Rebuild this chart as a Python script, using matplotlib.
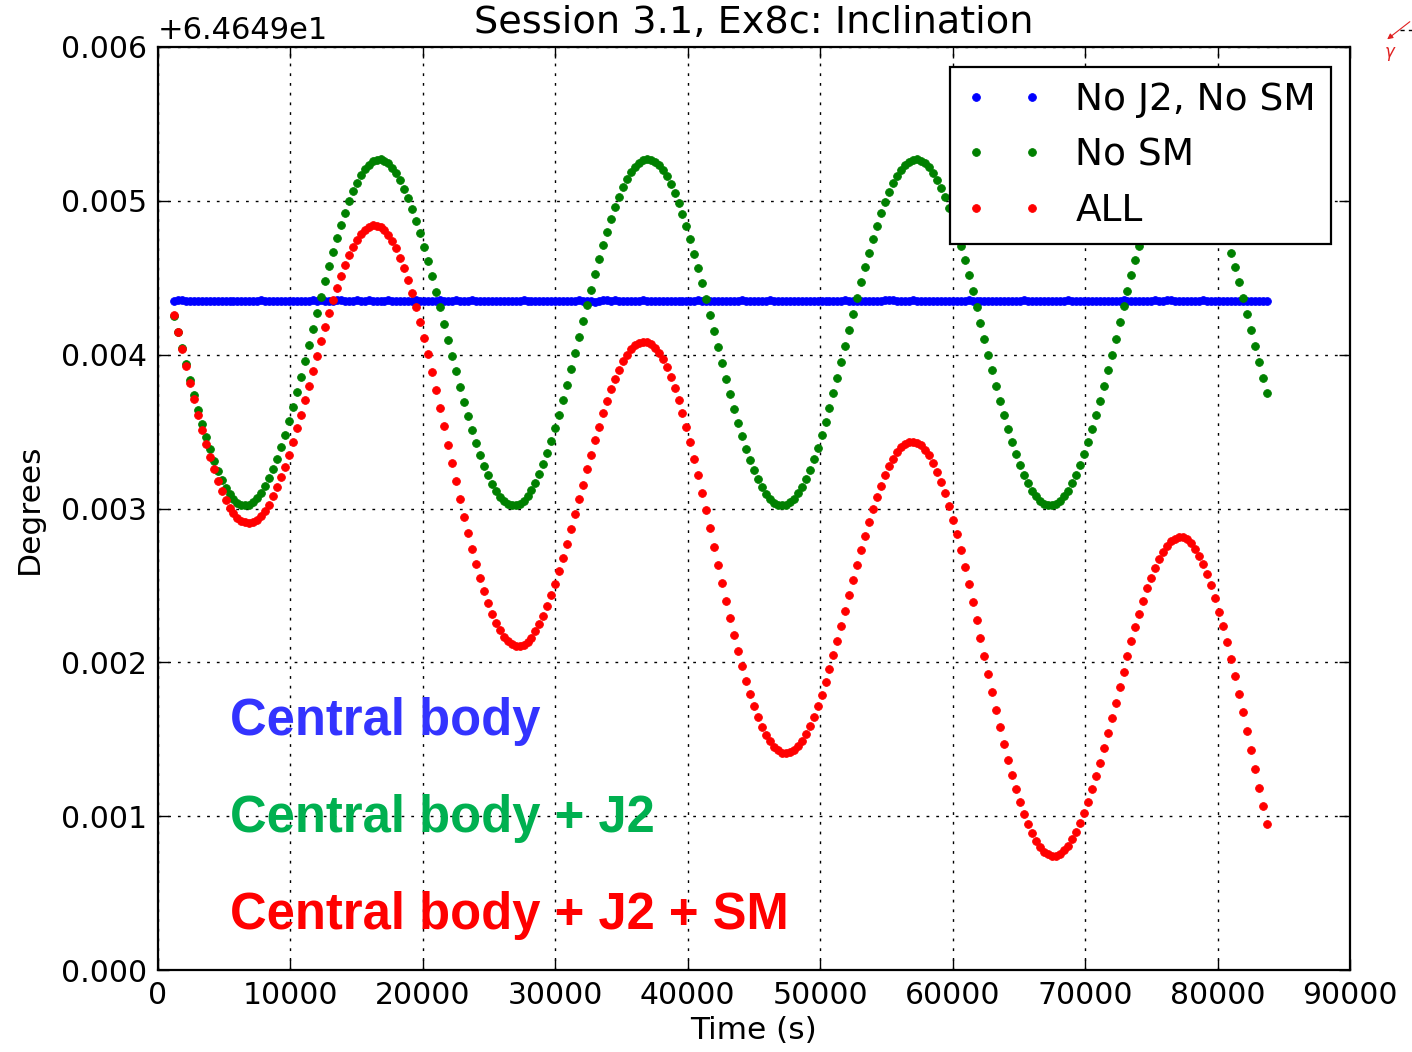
#!/usr/bin/env python3
import numpy as np
import matplotlib
matplotlib.use('Agg')
import matplotlib.pyplot as plt
from matplotlib.lines import Line2D

'''
Session 3.1, Ex8c: inclination of the orbit over one day,
three force models (two-body, + J2, + J2 + Sun/Moon)
Values are offsets from 64.649 deg, in micro-degrees, one sample every 300 s
'''

inc_base = 64.649
t_start = 1200
t_step = 300

# central body only
no_j2_no_sm = [
    4352, 4353, 4358, 4352, 4351, 4352, 4352, 4350, 4351, 4352, 4352, 4351,
    4352, 4351, 4350, 4352, 4352, 4351, 4352, 4351, 4350, 4352, 4353, 4352,
    4351, 4352, 4350, 4351, 4352, 4351, 4352, 4351, 4350, 4352, 4351, 4354,
    4352, 4353, 4351, 4350, 4352, 4356, 4353, 4352, 4351, 4352, 4357, 4352,
    4351, 4353, 4350, 4352, 4351, 4352, 4353, 4351, 4352, 4350, 4352, 4351,
    4352, 4353, 4351, 4352, 4350, 4351, 4352, 4353, 4352, 4351, 4352, 4356,
    4352, 4351, 4352, 4353, 4350, 4352, 4351, 4352, 4350, 4351, 4352, 4351,
    4352, 4350, 4351, 4352, 4353, 4351, 4352, 4350, 4351, 4352, 4351, 4352,
    4351, 4352, 4350, 4352, 4351, 4352, 4353, 4352, 4351, 4346, 4344, 4349,
    4353, 4356, 4352, 4355, 4349, 4347, 4351, 4352, 4351, 4352, 4353, 4352,
    4351, 4352, 4350, 4351, 4352, 4351, 4350, 4352, 4351, 4352, 4351, 4352,
    4353, 4351, 4352, 4350, 4351, 4352, 4351, 4352, 4350, 4351, 4352, 4353,
    4352, 4351, 4352, 4350, 4351, 4352, 4353, 4351, 4352, 4350, 4346, 4348,
    4352, 4351, 4352, 4350, 4351, 4352, 4351, 4352, 4351, 4350, 4352, 4351,
    4352, 4353, 4351, 4352, 4350, 4351, 4352, 4351, 4352, 4350, 4348, 4353,
    4357, 4354, 4352, 4350, 4351, 4352, 4353, 4352, 4351, 4352, 4350, 4351,
    4352, 4351, 4352, 4350, 4352, 4351, 4352, 4351, 4353, 4352, 4351, 4352,
    4350, 4351, 4352, 4351, 4352, 4350, 4351, 4352, 4351, 4352, 4353, 4351,
    4352, 4350, 4351, 4352, 4351, 4352, 4350, 4351, 4352, 4353, 4351, 4352,
    4350, 4351, 4352, 4351, 4352, 4350, 4351, 4352, 4351, 4352, 4350, 4353,
    4351, 4352, 4350, 4351, 4352, 4351, 4352, 4354, 4352, 4351, 4353, 4355,
    4352, 4350, 4347, 4346, 4349, 4351, 4352, 4353, 4351, 4352, 4350, 4351,
    4352, 4351, 4352, 4350, 4351, 4352, 4351, 4352, 4350, 4351, 4352, 4352,
]

# central body + J2
no_sm = [
    4251, 4147, 4042, 3939, 3837, 3738, 3642, 3551, 3464, 3384, 3311, 3244,
    3185, 3135, 3093, 3061, 3038, 3024, 3020, 3026, 3041, 3066, 3101, 3144,
    3196, 3257, 3325, 3400, 3481, 3568, 3661, 3757, 3857, 3959, 4063, 4168,
    4272, 4375, 4477, 4575, 4670, 4760, 4845, 4924, 4996, 5061, 5117, 5166,
    5205, 5236, 5257, 5268, 5269, 5261, 5244, 5216, 5180, 5134, 5080, 5018,
    4948, 4872, 4789, 4700, 4607, 4510, 4409, 4307, 4202, 4098, 3994, 3891,
    3790, 3692, 3599, 3509, 3426, 3349, 3279, 3216, 3161, 3114, 3077, 3049,
    3030, 3021, 3022, 3032, 3052, 3081, 3120, 3168, 3223, 3287, 3359, 3437,
    3521, 3611, 3705, 3803, 3904, 4008, 4112, 4216, 4320, 4423, 4523, 4620,
    4713, 4800, 4883, 4958, 5027, 5088, 5141, 5185, 5221, 5247, 5263, 5270,
    5267, 5254, 5232, 5200, 5160, 5110, 5052, 4987, 4914, 4834, 4749, 4657,
    4562, 4463, 4362, 4258, 4154, 4049, 3945, 3843, 3744, 3648, 3557, 3470,
    3389, 3315, 3248, 3189, 3138, 3096, 3063, 3039, 3025, 3020, 3025, 3040,
    3065, 3098, 3141, 3193, 3252, 3320, 3395, 3476, 3563, 3654, 3751, 3850,
    3952, 4056, 4161, 4265, 4368, 4470, 4569, 4664, 4754, 4839, 4919, 4991,
    5057, 5114, 5163, 5203, 5234, 5255, 5267, 5270, 5262, 5245, 5219, 5183,
    5138, 5084, 5022, 4953, 4877, 4795, 4707, 4614, 4517, 4416, 4313, 4209,
    4105, 4000, 3898, 3797, 3699, 3605, 3515, 3431, 3354, 3283, 3219, 3164,
    3117, 3079, 3050, 3031, 3021, 3021, 3031, 3050, 3079, 3117, 3164, 3220,
    3283, 3354, 3432, 3516, 3605, 3699, 3797, 3898, 4001, 4105, 4210, 4314,
    4417, 4517, 4614, 4707, 4795, 4878, 4954, 5023, 5084, 5138, 5183, 5219,
    5245, 5262, 5270, 5267, 5255, 5234, 5203, 5163, 5113, 5056, 4991, 4919,
    4839, 4754, 4663, 4568, 4470, 4368, 4265, 4160, 4056, 3952, 3850, 3750,
]

# central body + J2 + Sun/Moon
all_forces = [
    4256, 4145, 4034, 3925, 3816, 3712, 3610, 3513, 3421, 3335, 3254, 3179,
    3112, 3055, 3006, 2968, 2939, 2919, 2910, 2905, 2909, 2924, 2950, 2984,
    3026, 3079, 3139, 3203, 3273, 3351, 3434, 3521, 3611, 3704, 3799, 3895,
    3992, 4086, 4180, 4269, 4355, 4436, 4513, 4583, 4645, 4700, 4745, 4783,
    4812, 4832, 4840, 4839, 4829, 4809, 4780, 4740, 4691, 4631, 4564, 4488,
    4403, 4312, 4215, 4111, 4002, 3889, 3773, 3654, 3534, 3415, 3295, 3177,
    3060, 2947, 2840, 2735, 2637, 2546, 2461, 2386, 2317, 2257, 2207, 2167,
    2137, 2116, 2106, 2105, 2113, 2133, 2161, 2201, 2246, 2301, 2365, 2435,
    2510, 2593, 2679, 2770, 2864, 2961, 3059, 3155, 3254, 3349, 3443, 3533,
    3619, 3699, 3775, 3842, 3903, 3956, 3999, 4034, 4061, 4077, 4083, 4080,
    4067, 4044, 4011, 3969, 3917, 3856, 3785, 3708, 3622, 3530, 3431, 3325,
    3217, 3103, 2989, 2870, 2752, 2634, 2516, 2401, 2288, 2179, 2075, 1975,
    1881, 1794, 1715, 1644, 1582, 1529, 1486, 1452, 1428, 1413, 1408, 1414,
    1430, 1454, 1489, 1534, 1585, 1646, 1715, 1789, 1870, 1955, 2045, 2139,
    2235, 2334, 2435, 2533, 2631, 2728, 2822, 2911, 2996, 3075, 3149, 3215,
    3274, 3324, 3365, 3397, 3420, 3432, 3435, 3428, 3410, 3382, 3345, 3297,
    3240, 3174, 3099, 3017, 2928, 2831, 2729, 2622, 2511, 2395, 2278, 2159,
    2040, 1921, 1804, 1689, 1577, 1469, 1365, 1267, 1177, 1093, 1017, 949,
    890, 841, 800, 770, 751, 743, 744, 756, 778, 809, 849, 900,
    957, 1023, 1095, 1174, 1259, 1348, 1443, 1539, 1639, 1738, 1840, 1940,
    2039, 2136, 2229, 2317, 2401, 2480, 2550, 2614, 2670, 2717, 2756, 2786,
    2804, 2814, 2814, 2799, 2773, 2738, 2692, 2637, 2572, 2500, 2418, 2329,
    2233, 2131, 2022, 1910, 1794, 1674, 1553, 1431, 1309, 1186, 1067, 949,
]

series_labels = ['No J2, No SM', 'No SM', 'ALL']
series_colors = ['#0000ff', '#008000', '#ff0000']
note_labels = ['Central body', 'Central body + J2', 'Central body + J2 + SM']
note_colors = ['#3333ff', '#00b050', '#ff0000']


def main():
    plt.rcParams['font.family'] = ['DejaVu Sans']

    fig = plt.figure(figsize=(14.12, 10.52), dpi=100)
    ax = fig.add_axes([158 / 1412, 82 / 1052, 1192 / 1412, 923 / 1052])

    time_s = t_start + t_step * np.arange(len(no_sm))
    handles = []
    for vals, col, lab in zip([no_j2_no_sm, no_sm, all_forces], series_colors, series_labels):
        y = inc_base + np.array(vals) * 1e-6
        h, = ax.plot(time_s, y, linestyle='None', marker='o', ms=5.6,
                     color=col, mec=col, mew=0.6, label=lab)
        handles.append(h)

    ax.set_xlim(0, 90000)
    ax.set_ylim(inc_base, inc_base + 0.006)
    ax.set_xticks(np.arange(0, 90001, 10000))
    ax.set_yticks(inc_base + np.arange(0, 0.0061, 0.001))
    ax.ticklabel_format(axis='y', useOffset=inc_base)
    ax.yaxis.get_offset_text().set_fontsize(22)
    ax.yaxis.OFFSETTEXTPAD = 6

    ax.tick_params(direction='in', length=8, width=1, top=True, right=True,
                   labelsize=21.5, pad=8)
    for sp in ax.spines.values():
        sp.set_linewidth(1.6)
    ax.grid(True, color='k', linestyle=(0, (2, 5)), linewidth=1.0)

    ax.set_title('Session 3.1, Ex8c: Inclination', fontsize=27.5, pad=10)
    ax.set_xlabel('Time (s)', fontsize=22.5, labelpad=4)
    ax.set_ylabel('Degrees', fontsize=22.5, labelpad=12)

    leg = ax.legend(handles=handles, loc='upper right', numpoints=2,
                    bbox_to_anchor=(1331 / 1412, 1 - 67 / 1052),
                    bbox_transform=fig.transFigure, borderaxespad=0,
                    fontsize=27, fancybox=False, framealpha=1,
                    handlelength=2.1, handletextpad=0.85,
                    labelspacing=0.52, borderpad=0.4)
    leg.get_frame().set_edgecolor('k')
    leg.get_frame().set_linewidth(1.6)

    # slide annotations
    ys = [735, 832, 929]
    for txt, col, yb in zip(note_labels, note_colors, ys):
        fig.text(230 / 1412, 1 - yb / 1052, txt, color=col, fontsize=36.5,
                 fontweight='bold', family='Liberation Sans', va='baseline')

    # small red pointer in the corner
    fig.lines.append(Line2D([1400 / 1412, 1412 / 1412], [1 - 30 / 1052, 1 - 30 / 1052],
                            transform=fig.transFigure, color='k', lw=1,
                            linestyle=(0, (3, 3))))
    ax.annotate('', xy=(1385 / 1412, 1 - 41 / 1052), xytext=(1412 / 1412, 1 - 20 / 1052),
                xycoords='figure fraction', textcoords='figure fraction',
                arrowprops=dict(arrowstyle='-|>', color='#e02020', lw=0.8,
                                mutation_scale=8))
    fig.text(1390 / 1412, 1 - 57 / 1052, r'$\gamma$', color='#e02020', fontsize=12,
             ha='center', va='baseline')

    fig.savefig('out.png', dpi=100)


if __name__ == "__main__":
    main()
